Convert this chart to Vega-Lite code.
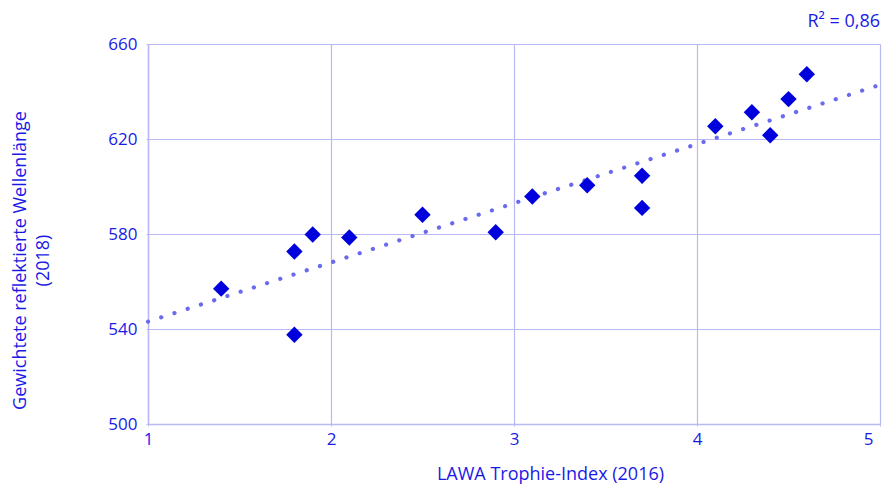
{
  "$schema": "https://vega.github.io/schema/vega-lite/v6.json",
  "autosize": {"type": "none"},
  "width": 732,
  "height": 380,
  "padding": {"left": 148, "top": 44, "right": 2, "bottom": 60},
  "background": "white",
  "config": {
    "view": {"stroke": null},
    "font": "Open Sans",
    "axis": {
      "labelFont": "Open Sans",
      "titleFont": "Open Sans",
      "labelColor": "#1a1ae6",
      "titleColor": "#1a1ae6",
      "labelFontSize": 17,
      "titleFontSize": 18,
      "titleFontWeight": "normal",
      "gridColor": "#b8b8f2",
      "gridWidth": 1.2,
      "gridOpacity": 1,
      "domainColor": "#b8b8f2",
      "domainWidth": 1.5,
      "tickColor": "#b8b8f2",
      "tickSize": 2
    }
  },
  "datasets": {
    "points": [
      {"trophie": 1.4, "wellenlaenge": 557},
      {"trophie": 1.8, "wellenlaenge": 572.6},
      {"trophie": 1.8, "wellenlaenge": 537.6},
      {"trophie": 1.9, "wellenlaenge": 579.8},
      {"trophie": 2.1, "wellenlaenge": 578.5},
      {"trophie": 2.5, "wellenlaenge": 588.1},
      {"trophie": 2.9, "wellenlaenge": 580.7},
      {"trophie": 3.1, "wellenlaenge": 595.8},
      {"trophie": 3.4, "wellenlaenge": 600.5},
      {"trophie": 3.7, "wellenlaenge": 604.5},
      {"trophie": 3.7, "wellenlaenge": 591},
      {"trophie": 4.1, "wellenlaenge": 625.4},
      {"trophie": 4.3, "wellenlaenge": 631.3},
      {"trophie": 4.4, "wellenlaenge": 621.6},
      {"trophie": 4.5, "wellenlaenge": 636.8},
      {"trophie": 4.6, "wellenlaenge": 647.3}
    ],
    "trend": [
      {"trophie": 1, "wellenlaenge": 543.1},
      {"trophie": 5, "wellenlaenge": 642.8}
    ],
    "note": [
      {"trophie": 5, "wellenlaenge": 660, "text": "R² = 0,86"}
    ]
  },
  "layer": [
    {
      "data": {"name": "trend"},
      "mark": {"type": "line", "color": "#6a6aee", "strokeWidth": 4.2, "strokeCap": "round", "strokeDash": [0.1, 13.8], "clip": false},
      "encoding": {
        "x": {
          "field": "trophie", "type": "quantitative",
          "scale": {"domain": [1, 5], "nice": false},
          "axis": {
            "values": [1, 2, 3, 4, 5],
            "format": "d",
            "labelFlush": false,
            "labelAlign": {"condition": {"test": "datum.value == 5", "value": "right"}, "value": "center"},
            "labelOffset": {"condition": {"test": "datum.value == 5", "value": -7}, "value": 0},
            "grid": true,
            "title": "LAWA Trophie-Index (2016)",
            "labelPadding": 5,
            "titleX": 402,
            "titleY": 50,
            "titleAlign": "center",
            "titleBaseline": "middle"
          }
        },
        "y": {
          "field": "wellenlaenge", "type": "quantitative",
          "scale": {"domain": [500, 660], "nice": false, "zero": false},
          "axis": {
            "values": [500, 540, 580, 620, 660],
            "grid": true,
            "title": ["Gewichtete reflektierte Wellenlänge", "(2018)"],
            "labelPadding": 9,
            "titleX": -128,
            "titleY": 216,
            "titleAlign": "center",
            "titleBaseline": "middle",
            "titleLineHeight": 23
          }
        }
      }
    },
    {
      "data": {"name": "points"},
      "mark": {"type": "point", "shape": "diamond", "filled": true, "color": "#0000dc", "opacity": 1, "size": 270},
      "encoding": {
        "x": {"field": "trophie", "type": "quantitative"},
        "y": {"field": "wellenlaenge", "type": "quantitative"}
      }
    },
    {
      "data": {"name": "note"},
      "mark": {"type": "text", "align": "right", "baseline": "middle", "dx": 0, "dy": -22, "fontSize": 18, "color": "#1a1ae6", "font": "Open Sans", "clip": false},
      "encoding": {
        "x": {"field": "trophie", "type": "quantitative"},
        "y": {"field": "wellenlaenge", "type": "quantitative"},
        "text": {"field": "text"}
      }
    }
  ]
}
